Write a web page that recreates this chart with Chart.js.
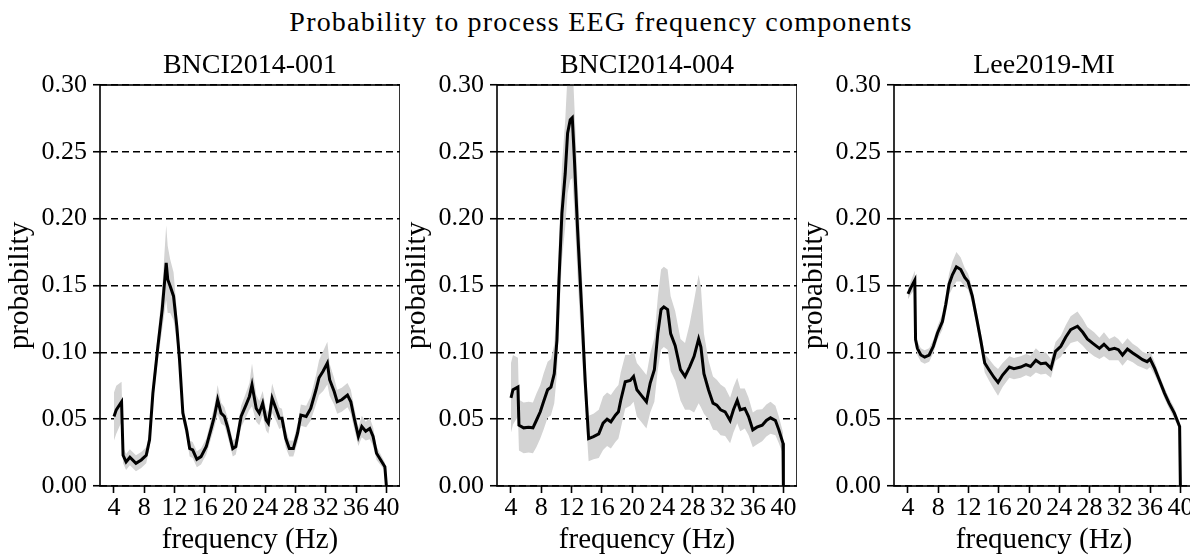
<!DOCTYPE html>
<html>
<head>
<meta charset="utf-8">
<script src="https://cdn.jsdelivr.net/npm/chart.js@4.4.1/dist/chart.umd.min.js"></script>
<style>
  html, body { margin: 0; padding: 0; background: #fff; }
  body { width: 1190px; height: 558px; overflow: hidden; position: relative; }
  .panel { position: absolute; top: 0; width: 400px; height: 558px; }
  #suptitle {
    position: absolute; top: 8px; left: 601px; transform: translateX(-50%);
    font: 28px/28px "Liberation Serif", serif; letter-spacing: 1.2px;
    white-space: nowrap; color: #000;
  }
</style>
</head>
<body>
<div id="suptitle">Probability to process EEG frequency components</div>
<div class="panel" style="left:0px"><canvas id="c1"></canvas></div>
<div class="panel" style="left:397px"><canvas id="c2"></canvas></div>
<div class="panel" style="left:794px"><canvas id="c3"></canvas></div>
<script>
// shared axes
const xTicks = [4, 8, 12, 16, 20, 24, 28, 32, 36, 40];
const yTicks = [0, 0.05, 0.10, 0.15, 0.20, 0.25, 0.30];

// BNCI2014-001
const freq1 = [4, 4.3, 5, 5.2, 5.6, 6.1, 6.9, 7.6, 8.26, 8.7,
  9.14, 9.8, 10.37, 10.9, 11.1, 11.43, 11.87, 12.3, 12.66, 13.1,
  13.6, 14.0, 14.4, 14.95, 15.5, 16.2, 16.8, 17.27, 17.7, 18.15,
  18.6, 19.0, 19.7, 20.1, 20.8, 21.45, 21.9, 22.24, 22.8, 23.2,
  23.65, 24.1, 24.4, 24.9, 25.4, 25.85, 26.2, 26.7, 27.17, 27.7,
  28.26, 28.7, 29.4, 30.0, 30.7, 31.1, 31.65, 32.2, 32.5, 33.1,
  33.5, 34.1, 34.86, 35.3, 35.7, 36.3, 36.75, 37.27, 37.8, 38.24,
  38.7, 39.25, 39.8, 40];
const mean1 = [.052, .057, .063, .023, .018, .0215, .017, .0195, .023, .0345,
  .0695, .1045, .132, .167, .1545, .1495, .142, .1195, .0945, .0545,
  .042, .028, .027, .020, .022, .0295, .042, .052, .0645, .0545,
  .052, .0445, .028, .0295, .052, .0607, .067, .0757, .058, .0545,
  .062, .0495, .047, .0657, .058, .0507, .0507, .0357, .028, .028,
  .0395, .053, .052, .058, .072, .081, .086, .092, .0795, .0707,
  .063, .0645, .068, .063, .052, .037, .0445, .041, .043, .037,
  .0245, .0195, .0145, 0];
const sd1 = [.018, .018, .015, .006, .006, .006, .006, .006, .006, .006,
  .008, .01, .015, .028, .025, .02, .018, .012, .008, .006,
  .006, .006, .006, .006, .006, .006, .007, .008, .011, .008,
  .007, .007, .006, .006, .008, .009, .01, .016, .01, .009,
  .009, .008, .008, .011, .009, .008, .007, .007, .006, .006,
  .007, .008, .008, .009, .011, .013, .015, .016, .012, .01,
  .009, .009, .009, .009, .008, .007, .008, .007, .008, .007,
  .005, .004, .003, 0];

// BNCI2014-004
const freq2 = [4, 4.26, 4.92, 5.05, 5.67, 6.33, 6.9, 7.35, 7.87, 8.3,
  8.84, 9.28, 9.72, 10.07, 10.34, 10.73, 11.17, 11.48, 11.83, 12.1,
  12.36, 12.8, 13.37, 13.8, 14.26, 14.9, 15.6, 16.17, 16.7, 17.2,
  17.8, 18.2, 18.5, 19.1, 19.76, 20.2, 20.64, 21.2, 21.9, 22.4,
  22.95, 23.4, 23.83, 24.2, 24.7, 25.1, 25.7, 26.4, 27.0, 27.6,
  28.2, 28.8, 29.1, 29.5, 30.1, 30.7, 31.2, 31.7, 32.3, 32.96,
  33.4, 33.9, 34.3, 34.9, 35.4, 35.96, 36.5, 37.2, 37.75, 38.3,
  38.95, 39.4, 39.95, 40];
const mean2 = [.066, .072, .074, .0455, .0435, .044, .0435, .049, .0555, .063,
  .072, .074, .084, .109, .154, .204, .234, .264, .274, .2755,
  .247, .192, .129, .079, .0355, .037, .039, .047, .05, .048,
  .053, .0555, .064, .078, .079, .082, .072, .068, .063, .077,
  .087, .114, .132, .134, .132, .114, .105, .087, .082, .089,
  .097, .11, .104, .084, .072, .062, .0605, .057, .0555, .049,
  .057, .064, .057, .058, .052, .042, .044, .0455, .049, .051,
  .049, .042, .032, 0];
const sd2 = [.026, .026, .022, .019, .019, .019, .019, .02, .02, .021,
  .021, .021, .022, .025, .03, .035, .04, .045, .045, .045,
  .04, .035, .03, .02, .017, .017, .018, .02, .02, .02,
  .02, .02, .021, .02, .019, .019, .02, .02, .02, .022,
  .024, .027, .03, .03, .03, .028, .026, .023, .025, .032,
  .042, .048, .045, .03, .022, .02, .019, .019, .018, .017,
  .017, .017, .016, .015, .014, .013, .013, .012, .012, .012,
  .011, .01, .008, 0];

// Lee2019-MI
const freq3 = [4, 4.35, 4.9, 5.0, 5.24, 5.7, 6.2, 6.8, 7.35, 7.9,
  8.55, 9.0, 9.43, 9.87, 10.4, 10.97, 11.5, 11.94, 12.5, 13.1,
  13.6, 14.14, 14.7, 15.4, 15.9, 16.5, 17.4, 18.0, 18.9, 19.6,
  20.2, 20.9, 21.55, 22.2, 22.9, 23.5, 24.2, 24.86, 25.5, 26.4,
  27.1, 27.7, 28.6, 29.3, 29.9, 30.6, 31.3, 31.8, 32.35, 33.0,
  33.7, 34.35, 35.0, 35.6, 36.0, 36.6, 37.2, 37.9, 38.5, 39.2,
  39.9, 40];
const mean3 = [.1437, .148, .154, .1095, .103, .098, .0965, .098, .1045, .1145,
  .123, .136, .151, .158, .164, .162, .156, .153, .142, .1245,
  .1095, .092, .087, .081, .0775, .083, .089, .0878, .089, .0908,
  .0895, .094, .0915, .092, .088, .1007, .1045, .1115, .117, .1195,
  .115, .11, .106, .103, .106, .102, .103, .102, .098, .1025,
  .0995, .097, .0945, .093, .095, .088, .0795, .0695, .062, .0545,
  .0445, 0];
const sd3 = [.004, .005, .007, .005, .005, .005, .005, .005, .005, .005,
  .006, .007, .008, .01, .011, .009, .007, .006, .006, .006,
  .006, .007, .008, .009, .01, .009, .008, .008, .008, .008,
  .008, .009, .008, .008, .007, .007, .008, .009, .01, .011,
  .01, .009, .009, .008, .009, .008, .009, .008, .008, .008,
  .007, .007, .006, .006, .006, .005, .004, .004, .004, .004,
  .003, 0];

const titles = ['BNCI2014-001', 'BNCI2014-004', 'Lee2019-MI'];

const FONT = '"Liberation Serif", serif';

// frame around the plot area + subplot title
const framePlugin = {
  id: 'frame',
  afterDraw(chart, args, opts) {
    const { ctx, chartArea: a } = chart;
    ctx.save();
    ctx.strokeStyle = '#000';
    ctx.lineWidth = 1.6;
    ctx.strokeRect(a.left, a.top, a.width, a.height);
    ctx.fillStyle = '#000';
    ctx.font = '28px ' + FONT;
    ctx.textAlign = 'center';
    ctx.textBaseline = 'alphabetic';
    ctx.fillText(opts.text, (a.left + a.right) / 2, 73);
    ctx.restore();
  }
};

function makeChart(id, title, freq, mean, sd) {
  const pts = (arr) => freq.map((f, i) => ({ x: f, y: arr[i] }));
  const upper = mean.map((m, i) => m + sd[i]);
  const lower = mean.map((m, i) => m - sd[i]);
  return new Chart(document.getElementById(id), {
    type: 'line',
    data: {
      datasets: [
        {
          data: pts(mean), borderColor: '#000', borderWidth: 3,
          pointRadius: 0, fill: false, tension: 0, order: 0,
        },
        {
          data: pts(upper), borderWidth: 0, borderColor: 'rgba(0,0,0,0)',
          backgroundColor: '#d3d3d3', pointRadius: 0, fill: '+1', tension: 0, order: 1,
        },
        {
          data: pts(lower), borderWidth: 0, borderColor: 'rgba(0,0,0,0)',
          pointRadius: 0, fill: false, tension: 0, order: 2,
        },
      ],
    },
    options: {
      responsive: true,
      maintainAspectRatio: false,
      devicePixelRatio: 1,
      animation: false,
      layout: { padding: { top: 85, left: 0, right: 0, bottom: 0 } },
      plugins: {
        legend: { display: false },
        tooltip: { enabled: false },
        frame: { text: title },
      },
      scales: {
        x: {
          type: 'linear',
          min: 2.15,
          max: 41.8,
          afterBuildTicks: (s) => { s.ticks = xTicks.map((v) => ({ value: v })); },
          afterFit: (s) => { s.height = 72; },
          ticks: { color: '#000', font: { family: FONT, size: 26 }, padding: 0, maxRotation: 0, autoSkip: false },
          grid: { drawOnChartArea: false, drawTicks: true, tickLength: 7, tickColor: '#000', tickWidth: 1.6 },
          border: { display: false },
          title: {
            display: true, text: 'frequency (Hz)', color: '#000',
            font: { family: FONT, size: 29 }, padding: { top: 0, bottom: 0 },
          },
        },
        y: {
          min: 0,
          max: 0.3,
          z: 1,
          afterBuildTicks: (s) => { s.ticks = yTicks.map((v) => ({ value: v })); },
          afterFit: (s) => { s.width = 100; },
          ticks: { color: '#000', font: { family: FONT, size: 26 }, padding: 6, callback: (v) => v.toFixed(2) },
          grid: {
            color: '#000', lineWidth: 1.5, drawTicks: true, tickLength: 7,
            tickColor: '#000', tickWidth: 1.6, tickBorderDash: [],
          },
          border: { display: false, dash: [7, 4] },
          title: {
            display: true, text: 'probability', color: '#000',
            font: { family: FONT, size: 29 }, padding: { top: 2.5, bottom: 0 },
          },
        },
      },
    },
    plugins: [framePlugin],
  });
}

makeChart('c1', titles[0], freq1, mean1, sd1);
makeChart('c2', titles[1], freq2, mean2, sd2);
makeChart('c3', titles[2], freq3, mean3, sd3);
</script>
</body>
</html>
